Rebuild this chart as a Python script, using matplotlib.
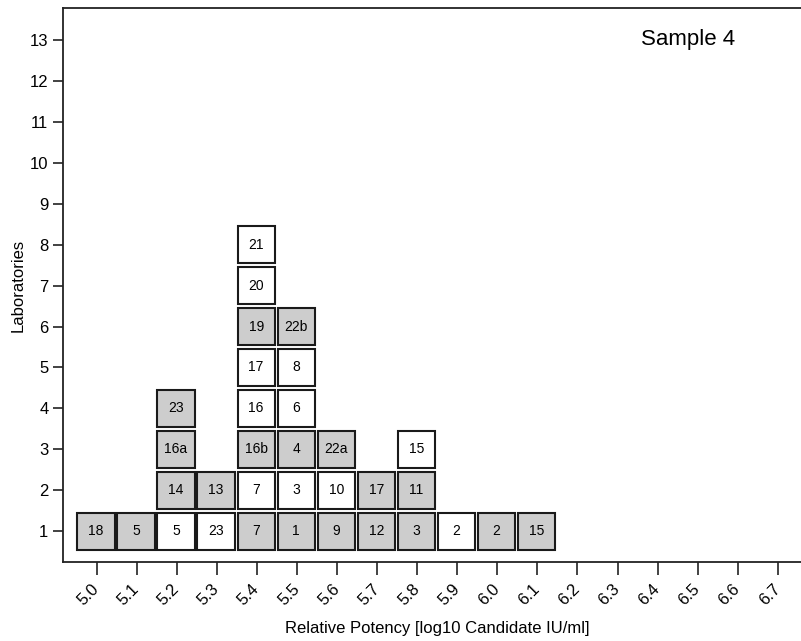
import matplotlib
matplotlib.use("Agg")
import matplotlib.pyplot as plt
from matplotlib.patches import Rectangle

plt.rcParams['font.family'] = ['Liberation Sans', 'DejaVu Sans']

# Data: each column = potency bin, stacked labs from bottom; (label, shaded)
bins = [5.0, 5.1, 5.2, 5.3, 5.4, 5.5, 5.6, 5.7, 5.8, 5.9, 6.0, 6.1]
labs = [
    ["18"],
    ["5"],
    ["5", "14", "16a", "23"],
    ["23", "13"],
    ["7", "7", "16b", "16", "17", "19", "20", "21"],
    ["1", "3", "4", "6", "8", "22b"],
    ["9", "10", "22a"],
    ["12", "17"],
    ["3", "11", "15"],
    ["2"],
    ["2"],
    ["15"],
]
shaded = [
    [1],
    [1],
    [0, 1, 1, 1],
    [0, 1],
    [1, 0, 1, 0, 0, 1, 0, 0],
    [1, 0, 1, 0, 0, 1],
    [1, 0, 1],
    [1, 1],
    [1, 1, 0],
    [0],
    [1],
    [1],
]
xticks = [round(5.0 + 0.1 * i, 1) for i in range(18)]
yticks = list(range(1, 14))

fig = plt.figure(figsize=(8.01, 6.41), dpi=100)
ax = fig.add_axes([0.0787, 0.1233, 0.9213, 0.8642])

bw, bh = 0.093, 0.9
for x, col, sh in zip(bins, labs, shaded):
    for i, (lab, s) in enumerate(zip(col, sh)):
        y = i + 1
        ax.add_patch(Rectangle((x - 0.002 - bw / 2, y - bh / 2), bw, bh,
                               facecolor="#cdcdcd" if s else "white",
                               edgecolor="#1a1a1a", linewidth=1.5, zorder=2))
        ax.text(x - 0.002, y, lab, ha="center", va="center", fontsize=10,
                color="black", zorder=3)

ax.set_xlim(4.916, 6.758)
ax.set_ylim(0.25, 13.78)
ax.set_xticks(xticks)
ax.set_xticklabels([f"{t:.1f}" for t in xticks], rotation=45, ha="right",
                   va="center", rotation_mode="anchor", fontsize=12)
ax.set_yticks(yticks)
ax.set_yticklabels([str(t) for t in yticks], fontsize=12)
ax.tick_params(direction="out", length=7, width=1.2, color="#222222")
ax.tick_params(axis="x", length=9, pad=9)
for sp in ["left", "bottom", "top"]:
    ax.spines[sp].set_linewidth(1.3)
    ax.spines[sp].set_color("#222222")
ax.spines["right"].set_visible(False)

ax.set_xlabel("Relative Potency [log10 Candidate IU/ml]", fontsize=12)
ax.xaxis.set_label_coords(0.507, -0.106)
ax.set_ylabel("Laboratories", fontsize=12, labelpad=3)
ax.text(6.475, 13.0, "Sample 4", fontsize=16, ha="center", va="center")

fig.savefig("out.png", dpi=100)
